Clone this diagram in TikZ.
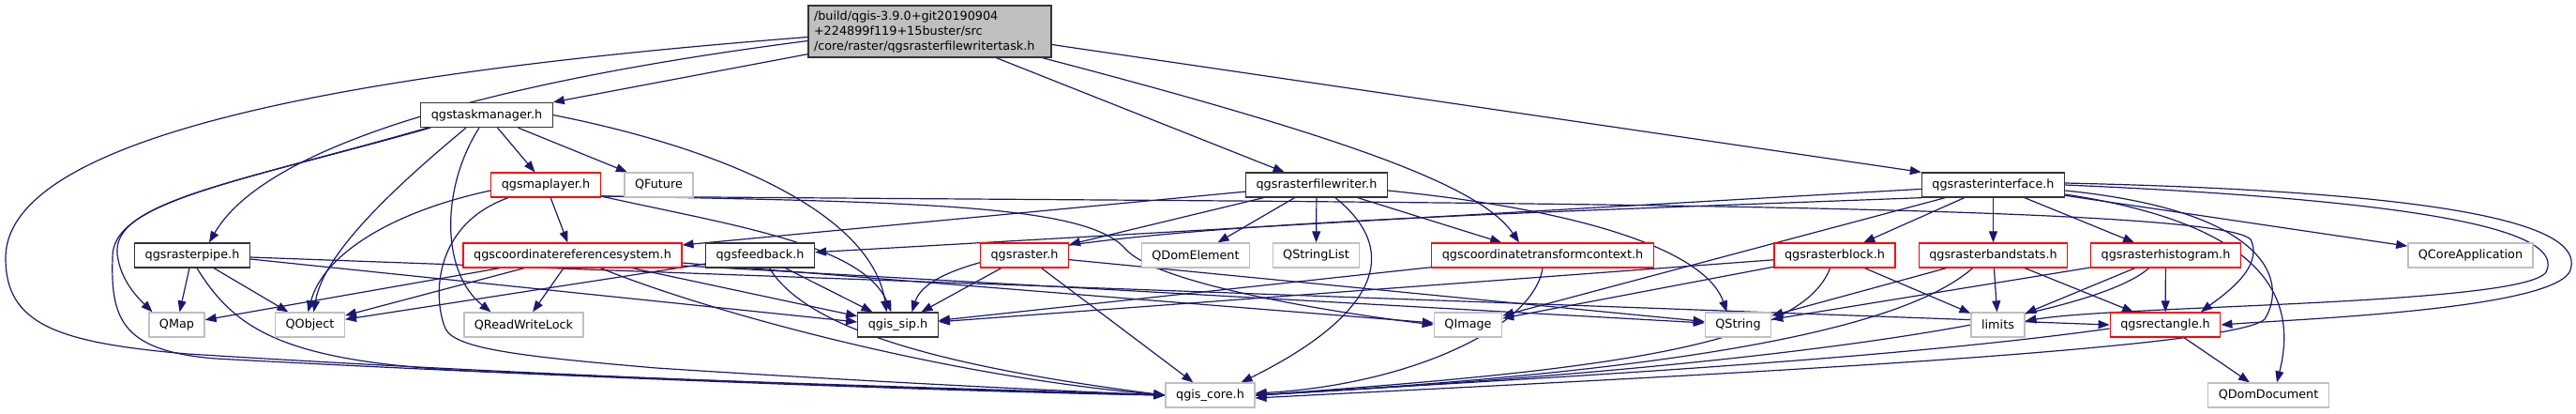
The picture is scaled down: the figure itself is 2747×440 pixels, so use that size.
\documentclass[tikz,border=0pt]{standalone}
\usepackage{fontspec}
\setmainfont{DejaVu Sans}
\usepackage{tikz}
\usetikzlibrary{arrows.meta, positioning}
\definecolor{edgeblue}{HTML}{191970}
\definecolor{boxgray}{HTML}{BFBFBF}
\pgfdeclarelayer{background}
\pgfsetlayers{background,main}

\begin{document}
\begin{tikzpicture}[
    x=1pt, y=-1pt,
    font=\fontsize{12.8}{16}\selectfont,
    hdr/.style={draw=black!80, line width=1.3pt, fill=white,
                minimum height=26pt, inner xsep=11pt, inner ysep=2pt},
    trunc/.style={hdr, draw=red},
    ext/.style={hdr, draw=boxgray},
    mainfile/.style={draw=black!80, line width=1.3pt, fill=boxgray,
                     minimum width=259pt, minimum height=55pt,
                     text width=247pt, align=left, inner xsep=6pt},
    dep/.style={-{Triangle[length=12pt,width=9pt]}, edgeblue, line width=1.2pt},
]
    \useasboundingbox (0,0) rectangle (2747,440);

    % Main file
    \node[mainfile] (root) at (991.5,33.5) {/build/qgis-3.9.0+git20190904\\+224899f119+15buster/src\\/core/raster/qgsrasterfilewritertask.h};

    % Row 1
    \node[hdr] (taskmgr) at (519,122.5) {qgstaskmanager.h};

    % Row 2
    \node[trunc] (maplayer) at (582,197) {qgsmaplayer.h};
    \node[ext] (qfuture) at (702.5,197) {QFuture};
    \node[hdr] (filewriter) at (1404,197) {qgsrasterfilewriter.h};
    \node[hdr] (rinterface) at (2125.5,197) {qgsrasterinterface.h};

    % Row 3
    \node[hdr] (rasterpipe) at (205,272) {qgsrasterpipe.h};
    \node[trunc] (crs) at (610.5,272) {qgscoordinatereferencesystem.h};
    \node[hdr] (feedback) at (810.5,272) {qgsfeedback.h};
    \node[trunc] (raster) at (1092.5,272) {qgsraster.h};
    \node[ext] (qdomelement) at (1275,272) {QDomElement};
    \node[ext] (qstringlist) at (1403.5,272) {QStringList};
    \node[trunc] (ctc) at (1645,272) {qgscoordinatetransformcontext.h};
    \node[trunc] (rblock) at (1956.5,272) {qgsrasterblock.h};
    \node[trunc] (bandstats) at (2125.5,272) {qgsrasterbandstats.h};
    \node[trunc] (histogram) at (2309.5,272) {qgsrasterhistogram.h};
    \node[ext] (qcoreapp) at (2634.5,272) {QCoreApplication};

    % Row 4
    \node[ext] (qmap) at (188.5,346) {QMap};
    \node[ext] (qobject) at (330.5,346) {QObject};
    \node[ext] (qrwlock) at (558.5,346) {QReadWriteLock};
    \node[hdr] (sip) at (957.5,346) {qgis\_sip.h};
    \node[ext] (qimage) at (1565.5,346) {QImage};
    \node[ext] (qstring) at (1853.5,346) {QString};
    \node[ext] (limits) at (2130.5,346) {limits};
    \node[trunc] (rect) at (2309,346) {qgsrectangle.h};

    % Row 5
    \node[ext] (core) at (1290.5,421) {qgis\_core.h};
    \node[ext] (qdomdoc) at (2419,421) {QDomDocument};

    \begin{pgfonlayer}{background}
    % From the main file
    \draw[dep] ([yshift=-6pt]root.west) .. controls (400,75) and (6,140) .. (6,275) .. controls (6,345) and (60,365) .. (200,377) .. controls (600,402) and (1000,415) .. (core.west);
    \draw[dep] ([yshift=-10pt]root.west) .. controls (500,90) and (280,160) .. ([xshift=18pt]rasterpipe.north);
    \draw[dep] ([yshift=4pt]root.south west) -- (taskmgr.north east);
    \draw[dep] (root) -- (filewriter);
    \draw[dep] ([xshift=-10pt]root.south east) .. controls (1450,150) and (1580,200) .. ([xshift=-25pt]ctc.north);
    \draw[dep] ([yshift=-14pt]root.east) -- (rinterface.north west);

    % qgstaskmanager.h
    \draw[dep] (taskmgr) -- (maplayer);
    \draw[dep] (taskmgr) -- (qfuture);
    \draw[dep] ([xshift=-22pt]taskmgr.south) .. controls (420,200) and (345,270) .. ([xshift=4pt]qobject.north);
    \draw[dep] ([xshift=-63pt]taskmgr.south) .. controls (250,195) and (120,215) .. (125,270) .. controls (128,300) and (150,320) .. ([xshift=-26pt]qmap.north);
    \draw[dep] ([xshift=-60pt]taskmgr.south) .. controls (250,195) and (118,215) .. (120,275) .. controls (118,340) and (130,374) .. (230,382) .. controls (600,402) and (1050,418) .. (core.west);
    \draw[dep] ([xshift=-8pt]taskmgr.south) .. controls (470,200) and (470,290) .. ([xshift=-35pt]qrwlock.north);
    \draw[dep] (taskmgr.east) .. controls (780,160) and (930,230) .. ([xshift=-12pt]sip.north);

    % qgsmaplayer.h
    \draw[dep] (maplayer) -- (crs);
    \draw[dep] ([yshift=-6pt]maplayer.west) .. controls (420,225) and (345,270) .. ([xshift=-2pt]qobject.north);
    \draw[dep] ([xshift=-40pt]maplayer.south) .. controls (460,240) and (462,320) .. (475,350) .. controls (485,372) and (560,380) .. (700,392) .. controls (900,405) and (1100,415) .. (core.west);
    \draw[dep] ([yshift=-12pt]maplayer.east) .. controls (780,240) and (920,260) .. ([xshift=-7pt]sip.north);
    \draw[dep] ([yshift=-12pt]maplayer.east) .. controls (1000,215) and (1160,220) .. (1200,265) .. controls (1230,300) and (1400,330) .. (qimage.west);
    \draw[dep] ([yshift=-12pt]maplayer.east) .. controls (1400,216) and (2360,214) .. (2400,255) .. controls (2415,285) and (2370,315) .. ([xshift=38pt]rect.north);

    % qgsrasterpipe.h
    \draw[dep] (rasterpipe) -- (qmap);
    \draw[dep] (rasterpipe) -- (qobject);
    \draw[dep] ([xshift=5pt]rasterpipe.south) .. controls (250,350) and (300,385) .. (500,395) .. controls (800,408) and (1100,416) .. (core.west);
    \draw[dep] ([yshift=-4pt]rasterpipe.east) -- ([yshift=3pt]sip.west);
    \draw[dep] ([yshift=-2pt]rasterpipe.east) -- (rect.west);

    % qgscoordinatereferencesystem.h
    \draw[dep] (crs) -- (qmap);
    \draw[dep] (crs) -- (qobject);
    \draw[dep] (crs) -- (qrwlock);
    \draw[dep] ([xshift=30pt]crs.south) .. controls (750,330) and (1000,400) .. (core.west);
    \draw[dep] (crs) -- (sip);
    \draw[dep] ([yshift=-8pt]crs.east) -- ([yshift=2pt]qimage.west);
    \draw[dep] ([yshift=-11pt]crs.east) -- ([yshift=2pt]qstring.west);

    % qgsfeedback.h
    \draw[dep] (feedback) -- (qobject);
    \draw[dep] ([xshift=10pt]feedback.south) .. controls (860,350) and (1000,390) .. (core.west);
    \draw[dep] (feedback) -- (sip);

    % qgsrasterfilewriter.h
    \draw[dep] (filewriter) -- (crs);
    \draw[dep] (filewriter) -- (raster);
    \draw[dep] (filewriter) -- (qdomelement);
    \draw[dep] (filewriter) -- (qstringlist);
    \draw[dep] (filewriter) -- (ctc);
    \draw[dep] ([xshift=20pt]filewriter.south) .. controls (1510,280) and (1440,350) .. ([xshift=33pt]core.north);
    \draw[dep] ([yshift=-6pt]filewriter.east) .. controls (1700,225) and (1820,270) .. ([xshift=-12pt]qstring.north);

    % qgsraster.h, qgscoordinatetransformcontext.h
    \draw[dep] (raster) -- (sip);
    \draw[dep] (raster) -- (core);
    \draw[dep] (raster) -- (qstring);
    \draw[dep] (ctc) -- (sip);
    \draw[dep] (ctc.south) .. controls (1635,350) and (1500,410) .. ([yshift=2pt]core.east);

    % qgsrasterinterface.h
    \draw[dep] (rinterface) -- (rblock);
    \draw[dep] (rinterface) -- (bandstats);
    \draw[dep] (rinterface) -- (histogram);
    \draw[dep] (rinterface) -- (qcoreapp);
    \draw[dep] (rinterface) -- (feedback);
    \draw[dep] (rinterface.south west) .. controls (1400,235) and (1000,245) .. ([xshift=15pt]sip.north);
    \draw[dep] (rinterface) -- (qimage);
    \draw[dep] (rinterface.east) .. controls (2620,215) and (2735,250) .. (2715,290) .. controls (2690,325) and (2260,325) .. ([yshift=4pt]limits.east);
    \draw[dep] ([yshift=2pt]rinterface.east) .. controls (2650,205) and (2760,245) .. (2740,290) .. controls (2715,330) and (2450,340) .. (rect.east);
    \draw[dep] ([yshift=-6pt]rinterface.east) .. controls (2420,225) and (2440,300) .. (2415,340) .. controls (2380,375) and (1700,405) .. ([yshift=-3pt]core.east);
    \draw[dep] ([yshift=-10pt]rinterface.east) .. controls (2420,240) and (2450,320) .. ([xshift=9pt]qdomdoc.north);

    % qgsrasterblock.h
    \draw[dep] (rblock) -- (limits);
    \draw[dep] (rblock) -- (qimage);
    \draw[dep] (rblock) -- (sip);
    \draw[dep] ([xshift=-5pt]rblock.south) .. controls (1920,370) and (1700,395) .. (core.east);

    % qgsrasterbandstats.h
    \draw[dep] (bandstats) -- (qstring);
    \draw[dep] (bandstats) -- (limits);
    \draw[dep] (bandstats) -- (rect);
    \draw[dep] ([xshift=-22pt]bandstats.south) .. controls (2030,350) and (1800,395) .. (core.east);

    % qgsrasterhistogram.h
    \draw[dep] (histogram) -- (qstring);
    \draw[dep] (histogram) -- (limits);
    \draw[dep] (histogram) -- (rect);
    \draw[dep] ([xshift=-18pt]histogram.south) .. controls (2230,340) and (1900,390) .. (core.east);

    % qgsrectangle.h
    \draw[dep] (rect) -- (qdomdoc);
    \draw[dep] ([yshift=-4pt]rect.west) .. controls (2000,385) and (1600,405) .. (core.east);
    \end{pgfonlayer}
\end{tikzpicture}
\end{document}
